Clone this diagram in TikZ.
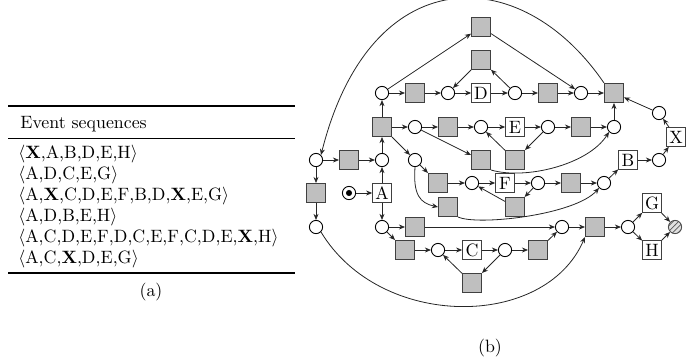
\documentclass[tikz,border=0pt]{standalone}
\usetikzlibrary{arrows.meta,patterns}
\begin{document}
\begin{tikzpicture}[x=0.56pt,y=-0.56pt,
  pl/.style={circle,draw=black,fill=white,minimum size=7.4pt,inner sep=0pt,line width=0.5pt},
  tok/.style={path picture={\fill[black] (path picture bounding box.center) circle (1.7pt);}},
  gt/.style={rectangle,draw=black!75,fill=black!25,minimum size=10.4pt,inner sep=0pt,line width=0.8pt},
  lt/.style={rectangle,draw=black!75,fill=white,minimum size=10.4pt,inner sep=0pt,line width=0.6pt},
  fin/.style={circle,draw=black!70,minimum size=7.4pt,inner sep=0pt,line width=0.5pt,
     preaction={fill=black!12},pattern=north east lines,pattern color=black!65},
  arr/.style={-{Stealth[length=3.4pt,width=2.8pt]},line width=0.45pt,draw=black!85},
  row/.style={anchor=base west,inner sep=0pt}]
\clip (0,0) rectangle (687,359);
\useasboundingbox (0,0) rectangle (687,359);
% ---------- table (a)
\draw[line width=0.8pt] (8,106) -- (295,106);
\node[row] (hdr) at (20,128) {Event sequences};
\draw[line width=0.45pt] (8,138) -- (295,138);
\node[row] (s1) at (18,158) {$\langle$\textbf{X},A,B,D,E,H$\rangle$};
\node[row] (s2) at (18,179) {$\langle$A,D,C,E,G$\rangle$};
\node[row] (s3) at (18,200) {$\langle$A,\textbf{X},C,D,E,F,B,D,\textbf{X},E,G$\rangle$};
\node[row] (s4) at (18,221) {$\langle$A,D,B,E,H$\rangle$};
\node[row] (s5) at (18,242) {$\langle$A,C,D,E,F,D,C,E,F,C,D,E,\textbf{X},H$\rangle$};
\node[row] (s6) at (18,263) {$\langle$A,C,\textbf{X},D,E,G$\rangle$};
\draw[line width=0.8pt] (8,273) -- (295,273);
\node (la) at (151,292) {(a)};
\node (lb) at (490,348) {(b)};
% ---------- net (b)
\node[pl] (P15) at (316,160) {};
\node[gt] (G13) at (349,160) {};
\node[pl] (P16) at (382,160) {};
\node[gt] (G14) at (316,193) {};
\node[pl] (P17) at (316,227) {};
\node[pl,tok] (P0) at (349,193) {};
\node[lt] (A) at (382,193) {A};
\node[gt] (G4) at (382,127) {};
\node[pl] (P1) at (382,93) {};
\node[gt] (G1) at (415,93) {};
\node[pl] (P2) at (448,93) {};
\node[lt] (D) at (481,93) {D};
\node[pl] (P3) at (515,93) {};
\node[gt] (G2) at (548,93) {};
\node[pl] (P4) at (581,93) {};
\node[gt] (G3) at (614,93) {};
\node[gt] (T1) at (481,27) {};
\node[gt] (T2) at (481,60) {};
\node[pl] (P5) at (415,127) {};
\node[gt] (G5) at (448,127) {};
\node[pl] (P6) at (481,127) {};
\node[lt] (E) at (515,127) {E};
\node[pl] (P7) at (548,127) {};
\node[gt] (G6) at (581,127) {};
\node[pl] (P8) at (614,127) {};
\node[gt] (G7) at (481,160) {};
\node[gt] (G8) at (515,160) {};
\node[pl] (P9) at (415,160) {};
\node[gt] (G9) at (438,183) {};
\node[pl] (P10) at (472,183) {};
\node[lt] (F) at (505,183) {F};
\node[pl] (P11) at (538,183) {};
\node[gt] (G10) at (571,183) {};
\node[pl] (P12) at (604,183) {};
\node[gt] (G11) at (448,207) {};
\node[gt] (G12) at (515,207) {};
\node[lt] (B) at (628,160) {B};
\node[pl] (P13) at (659,160) {};
\node[lt] (X) at (676,137) {X};
\node[pl] (P14) at (659,113) {};
\node[pl] (P18) at (382,227) {};
\node[gt] (G15) at (415,227) {};
\node[pl] (P19) at (562,227) {};
\node[gt] (G16) at (595,227) {};
\node[pl] (P20) at (628,227) {};
\node[lt] (G) at (652,203) {G};
\node[lt] (H) at (652,250) {H};
\node[fin] (PE) at (675,227) {};
\node[gt] (G17) at (405,250) {};
\node[pl] (P21) at (438,250) {};
\node[lt] (C) at (472,250) {C};
\node[pl] (P22) at (505,250) {};
\node[gt] (G18) at (538,250) {};
\node[gt] (G19) at (472,283) {};
% edges
\draw[arr] (P0) -- (A);
\draw[arr] (A) -- (P16);
\draw[arr] (A) -- (P18);
\draw[arr] (P15) -- (G13);
\draw[arr] (G13) -- (P16);
\draw[arr] (P16) -- (G4);
\draw[arr] (G4) -- (P1);
\draw[arr] (P15) -- (G14);
\draw[arr] (G14) -- (P17);
\draw[arr] (G4) -- (P5);
\draw[arr] (G4) -- (P9);
\draw[arr] (G3.north west) .. controls (520,-40) and (370,-40) .. (P15.north east);
\draw[arr] (P17.south east) .. controls (380,330) and (545,330) .. (G16.south west);
\draw[arr] (P1) -- (G1);
\draw[arr] (G1) -- (P2);
\draw[arr] (P2) -- (D);
\draw[arr] (D) -- (P3);
\draw[arr] (P3) -- (G2);
\draw[arr] (G2) -- (P4);
\draw[arr] (P4) -- (G3);
\draw[arr] (P1) -- (T1);
\draw[arr] (T1) -- (P4);
\draw[arr] (P3) -- (T2);
\draw[arr] (T2) -- (P2);
\draw[arr] (P8) -- (G3);
\draw[arr] (P14) -- (G3);
\draw[arr] (X) -- (P14);
\draw[arr] (P13) -- (X);
\draw[arr] (B) -- (P13);
\draw[arr] (P12) -- (B);
\draw[arr] (P5) -- (G5);
\draw[arr] (G5) -- (P6);
\draw[arr] (P6) -- (E);
\draw[arr] (E) -- (P7);
\draw[arr] (P7) -- (G6);
\draw[arr] (G6) -- (P8);
\draw[arr] (P5) -- (G7);
\draw[arr] (G8) -- (P6);
\draw[arr] (P7) -- (G8);
\draw[arr] (G7.south east) .. controls (525,180) and (588,165) .. (P8.south west);
\draw[arr] (P9) -- (G9);
\draw[arr] (P9.south) .. controls (413,195) and (420,203) .. (G11.west);
\draw[arr] (G9) -- (P10);
\draw[arr] (P10) -- (F);
\draw[arr] (F) -- (P11);
\draw[arr] (P11) -- (G10);
\draw[arr] (G10) -- (P12);
\draw[arr] (G12) -- (P10);
\draw[arr] (P11) -- (G12);
\draw[arr] (G11.south east) .. controls (478,226) and (575,215) .. (P12.south west);
\draw[arr] (P18) -- (G15);
\draw[arr] (G15) -- (P19);
\draw[arr] (P18) -- (G17);
\draw[arr] (G18) -- (P19);
\draw[arr] (P19) -- (G16);
\draw[arr] (G16) -- (P20);
\draw[arr] (P20) -- (G);
\draw[arr] (P20) -- (H);
\draw[arr] (G) -- (PE);
\draw[arr] (H) -- (PE);
\draw[arr] (G17) -- (P21);
\draw[arr] (P21) -- (C);
\draw[arr] (C) -- (P22);
\draw[arr] (P22) -- (G18);
\draw[arr] (G19) -- (P21);
\draw[arr] (P22) -- (G19);
\end{tikzpicture}
\end{document}
